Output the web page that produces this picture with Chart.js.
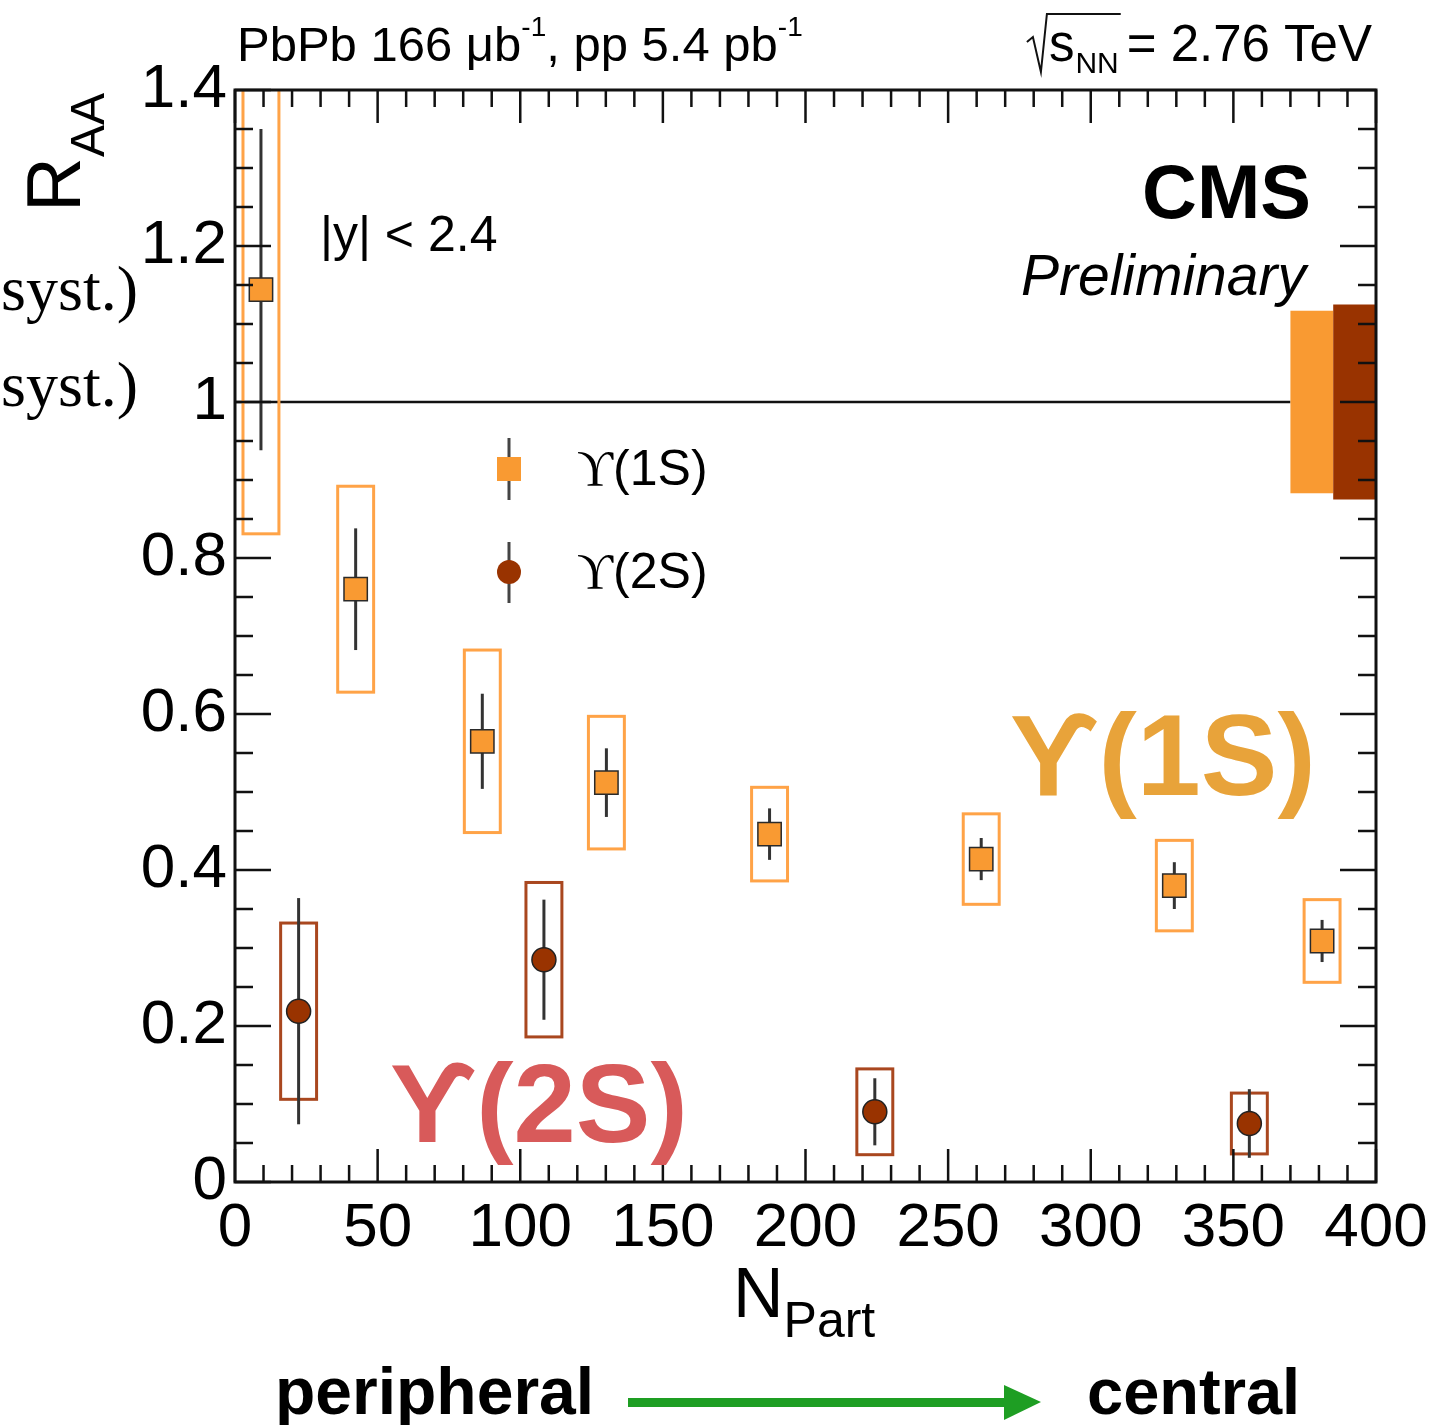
<!DOCTYPE html>
<html>
<head>
<meta charset="utf-8">
<script src="https://cdn.jsdelivr.net/npm/chart.js@4"></script>
<style>
  html, body { margin: 0; padding: 0; background: #fff; }
  #c { display: block; }
</style>
</head>
<body>
<canvas id="c" width="1438" height="1425"></canvas>
<script>
// Upsilon(1S) vs Npart
var npart1S = [9.1, 42.3, 86.7, 130.2, 187.4, 261.6, 329.3, 381.1];
var raa1S = [1.144, 0.760, 0.565, 0.512, 0.446, 0.414, 0.380, 0.309];
var stat1S = [0.206, 0.078, 0.061, 0.044, 0.033, 0.027, 0.030, 0.027];
var syst1S = [0.313, 0.132, 0.117, 0.085, 0.060, 0.058, 0.058, 0.053];

// Upsilon(2S) vs Npart
var npart2S = [22.3, 108.3, 224.3, 355.6];
var raa2S = [0.219, 0.285, 0.090, 0.075];
var stat2S = [0.145, 0.077, 0.043, 0.044];
var syst2S = [0.113, 0.099, 0.055, 0.039];

// global uncertainties drawn around RAA = 1
var global1S = 0.117;
var global2S = 0.125;

var xTicks = [0, 50, 100, 150, 200, 250, 300, 350, 400];
var yTicks = [0, 0.2, 0.4, 0.6, 0.8, 1, 1.2, 1.4];

var SANS = "'Liberation Sans', Arial, Helvetica, sans-serif";
var SERIF = "'Liberation Serif', 'Times New Roman', serif";
var ORANGE = "#f99a32";
var ORANGE_BOX = "#ffa347";
var BROWN = "#993300";
var BROWN_BOX = "#a9471f";
var BOX_HALF = 6.3; // half width of syst boxes, in Npart units

function pts(xs, ys) {
  return xs.map(function (x, i) { return { x: x, y: ys[i] }; });
}

var decor = {
  id: "decor",
  beforeDatasetsDraw: function (chart) {
    var c = chart.ctx, a = chart.chartArea;
    var xs = chart.scales.x, ys = chart.scales.y;
    c.save();
    c.beginPath();
    c.rect(a.left, a.top, a.right - a.left, a.bottom - a.top);
    c.clip();

    // line at RAA = 1
    c.strokeStyle = "#111";
    c.lineWidth = 2.5;
    c.beginPath();
    c.moveTo(a.left, ys.getPixelForValue(1));
    c.lineTo(xs.getPixelForValue(370), ys.getPixelForValue(1));
    c.stroke();

    // global uncertainty boxes
    c.fillStyle = ORANGE;
    c.fillRect(xs.getPixelForValue(370), ys.getPixelForValue(1 + global1S),
      xs.getPixelForValue(385) - xs.getPixelForValue(370),
      ys.getPixelForValue(1 - global1S) - ys.getPixelForValue(1 + global1S));
    c.fillStyle = BROWN;
    c.fillRect(xs.getPixelForValue(385), ys.getPixelForValue(1 + global2S),
      xs.getPixelForValue(400) - xs.getPixelForValue(385),
      ys.getPixelForValue(1 - global2S) - ys.getPixelForValue(1 + global2S));

    function boxes(xv, yv, sy, col) {
      c.strokeStyle = col;
      c.lineWidth = 3;
      for (var i = 0; i < xv.length; i++) {
        var x0 = xs.getPixelForValue(xv[i] - BOX_HALF);
        var x1 = xs.getPixelForValue(xv[i] + BOX_HALF);
        var y0 = ys.getPixelForValue(yv[i] + sy[i]);
        var y1 = ys.getPixelForValue(yv[i] - sy[i]);
        c.strokeRect(x0, y0, x1 - x0, y1 - y0);
      }
    }
    function bars(xv, yv, st) {
      c.strokeStyle = "#333";
      c.lineWidth = 3;
      for (var i = 0; i < xv.length; i++) {
        var x = xs.getPixelForValue(xv[i]);
        c.beginPath();
        c.moveTo(x, ys.getPixelForValue(yv[i] + st[i]));
        c.lineTo(x, ys.getPixelForValue(yv[i] - st[i]));
        c.stroke();
      }
    }
    boxes(npart1S, raa1S, syst1S, ORANGE_BOX);
    boxes(npart2S, raa2S, syst2S, BROWN_BOX);
    bars(npart1S, raa1S, stat1S);
    bars(npart2S, raa2S, stat2S);
    c.restore();
  },
  afterDraw: function (chart) {
    var c = chart.ctx, a = chart.chartArea;
    var xs = chart.scales.x, ys = chart.scales.y;
    c.save();

    // inward ticks on all sides
    c.strokeStyle = "#111";
    c.lineWidth = 2.5;
    c.beginPath();
    for (var v = 0; v <= 400; v += 10) {
      var px = xs.getPixelForValue(v);
      var len = v % 50 === 0 ? 33 : 17;
      c.moveTo(px, a.bottom); c.lineTo(px, a.bottom - len);
      c.moveTo(px, a.top); c.lineTo(px, a.top + len);
    }
    for (var k = 0; k <= 28; k++) {
      var py = ys.getPixelForValue(k * 0.05);
      var ln = k % 4 === 0 ? 36 : 18;
      c.moveTo(a.left, py); c.lineTo(a.left + ln, py);
      c.moveTo(a.right, py); c.lineTo(a.right - ln, py);
    }
    c.stroke();

    // frame
    c.lineWidth = 3;
    c.strokeRect(a.left, a.top, a.right - a.left, a.bottom - a.top);

    c.fillStyle = "#000";
    c.textBaseline = "alphabetic";

    // top labels
    c.textAlign = "left";
    c.font = "49px " + SANS;
    var t = "PbPb 166 \u03bcb";
    c.fillText(t, 237, 61);
    var w = c.measureText(t).width;
    c.font = "28px " + SANS;
    c.fillText("-1", 237 + w, 36);
    w += c.measureText("-1").width;
    c.font = "49px " + SANS;
    var t2 = ", pp 5.4 pb";
    c.fillText(t2, 237 + w, 61);
    w += c.measureText(t2).width;
    c.font = "28px " + SANS;
    c.fillText("-1", 237 + w, 36);

    // sqrt(sNN) = 2.76 TeV, laid out from the right edge
    c.font = "51px " + SANS;
    c.textAlign = "right";
    c.fillText("= 2.76 TeV", 1372, 61);
    var eqw = c.measureText("= 2.76 TeV").width;
    c.font = "30px " + SANS;
    var nnw = c.measureText("NN").width;
    var nnx = 1372 - eqw - 8 - nnw;
    c.textAlign = "left";
    c.fillText("NN", nnx, 73);
    c.font = "51px " + SANS;
    var sw = c.measureText("s").width;
    var sx = nnx - sw - 1;
    c.fillText("s", sx, 61);
    c.lineWidth = 2;
    c.beginPath();
    c.moveTo(sx - 22, 42); c.lineTo(sx - 16, 37); c.lineTo(sx - 8, 72); c.lineTo(sx - 2, 14); c.lineTo(nnx + nnw + 2, 14);
    c.stroke();

    // CMS Preliminary
    c.textAlign = "right";
    c.font = "bold 76px " + SANS;
    c.fillText("CMS", 1311, 218);
    c.font = "italic 57px " + SANS;
    c.fillText("Preliminary", 1306, 295);

    // rapidity range
    c.textAlign = "left";
    c.font = "50px " + SANS;
    c.fillText("|y| < 2.4", 320, 251);

    // cut-off syst labels at the left edge
    c.textAlign = "right";
    c.font = "64px " + SERIF;
    c.fillText("syst.)", 138, 310);
    c.fillText("syst.)", 138, 406);

    // legend
    var lx = 509;
    c.strokeStyle = "#444";
    c.lineWidth = 3;
    c.beginPath();
    c.moveTo(lx, 438); c.lineTo(lx, 500);
    c.moveTo(lx, 542); c.lineTo(lx, 603);
    c.stroke();
    c.fillStyle = ORANGE;
    c.fillRect(lx - 12, 457, 24, 24);
    c.fillStyle = BROWN;
    c.beginPath(); c.arc(lx, 572, 12, 0, Math.PI * 2); c.fill();
    c.fillStyle = "#000";
    c.textAlign = "left";
    [["(1S)", 485], ["(2S)", 588]].forEach(function (e) {
      c.font = "50px " + SERIF;
      c.fillText("\u03d2", 577, e[1]);
      var uw = c.measureText("\u03d2").width;
      c.font = "50px " + SANS;
      c.fillText(e[0], 577 + uw, e[1]);
    });

    // big coloured labels
    c.font = "bold 115px " + SANS;
    c.fillStyle = "#e8a33a";
    c.fillText("\u03d2(1S)", 1010, 795);
    c.fillStyle = "#d85a5a";
    c.font = "bold 112px " + SANS;
    c.fillText("\u03d2(2S)", 390, 1142);

    // y title R_AA (rotated)
    c.fillStyle = "#000";
    c.save();
    c.translate(80, 212);
    c.rotate(-Math.PI / 2);
    c.font = "76px " + SANS;
    c.fillText("R", 0, 0);
    var rw = c.measureText("R").width;
    c.font = "48px " + SANS;
    c.fillText("AA", rw, 24);
    c.restore();

    // x title N_Part
    c.font = "70px " + SANS;
    c.fillText("N", 733, 1317);
    var nw = c.measureText("N").width;
    c.font = "50px " + SANS;
    c.fillText("Part", 733 + nw, 1337);

    // peripheral -> central
    c.font = "bold 66px " + SANS;
    c.fillText("peripheral", 275, 1414);
    c.font = "bold 65px " + SANS;
    c.fillText("central", 1087, 1414);
    c.fillStyle = "#1e9e23";
    c.fillRect(628, 1398, 378, 9);
    c.beginPath();
    c.moveTo(1004, 1385); c.lineTo(1041, 1402); c.lineTo(1004, 1420); c.closePath();
    c.fill();

    c.restore();
  }
};

new Chart(document.getElementById("c"), {
  type: "scatter",
  data: {
    datasets: [
      {
        label: "\u03d2(1S)",
        data: pts(npart1S, raa1S),
        pointStyle: "rect",
        pointRadius: 16.5,
        backgroundColor: ORANGE,
        borderColor: "#2a2a2a",
        borderWidth: 1.5
      },
      {
        label: "\u03d2(2S)",
        data: pts(npart2S, raa2S),
        pointStyle: "circle",
        pointRadius: 12,
        backgroundColor: BROWN,
        borderColor: "#222",
        borderWidth: 1.5
      }
    ]
  },
  options: {
    responsive: false,
    animation: false,
    layout: { padding: { top: 90, right: 62, left: 0, bottom: 0 } },
    plugins: { legend: { display: false }, tooltip: { enabled: false } },
    scales: {
      x: {
        type: "linear",
        min: 0,
        max: 400,
        afterBuildTicks: function (s) { s.ticks = xTicks.map(function (v) { return { value: v }; }); },
        afterFit: function (s) { s.height = 243; },
        grid: { display: false },
        border: { display: false },
        ticks: { color: "#000", font: { size: 62, family: SANS }, padding: 2, maxRotation: 0, autoSkip: false }
      },
      y: {
        min: 0,
        max: 1.4,
        afterBuildTicks: function (s) { s.ticks = yTicks.map(function (v) { return { value: v }; }); },
        afterFit: function (s) { s.width = 235; },
        grid: { display: false },
        border: { display: false },
        ticks: {
          color: "#000",
          font: { size: 62, family: SANS },
          padding: 0,
          autoSkip: false,
          callback: function (v) { return String(Number(v.toFixed(1))); }
        }
      }
    }
  },
  plugins: [decor]
});
</script>
</body>
</html>
